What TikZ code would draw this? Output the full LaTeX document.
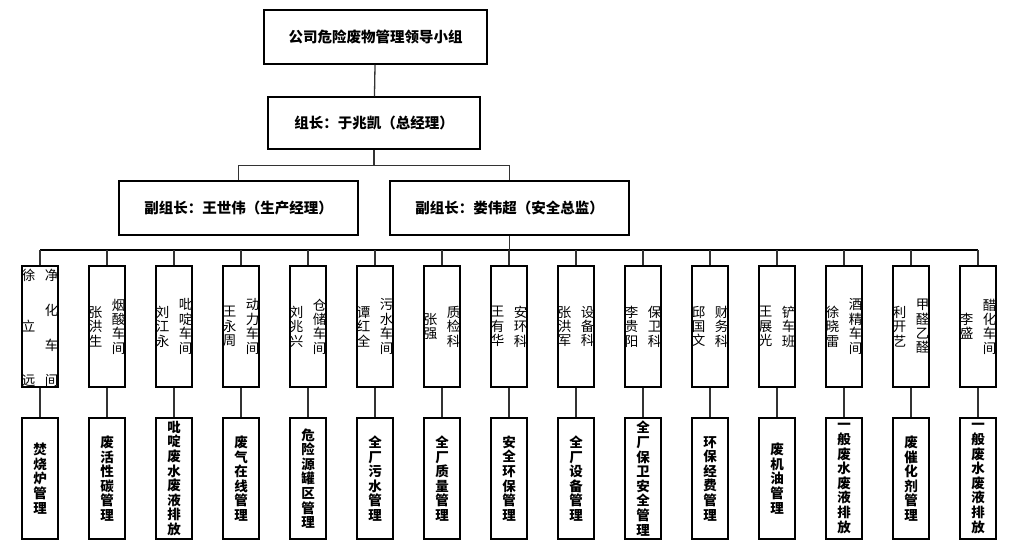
\documentclass[tikz,border=0pt]{standalone}
\usepackage{fontspec}
\setmainfont{Noto Sans CJK SC}
\XeTeXlinebreaklocale "zh"
\XeTeXlinebreakskip=0pt plus 1pt

\begin{document}
\begin{tikzpicture}[x=1pt, y=-1pt, line width=1.5pt,
    lead/.style={draw, inner sep=0pt, minimum height=54pt,
        font=\fontsize{14.5}{16}\selectfont\bfseries},
    unit/.style={draw, inner sep=0pt, minimum width=36pt, minimum height=121pt},
    vcol/.style={inner sep=0pt, text width=14pt, align=center,
        font=\fontsize{13.5}{14.4}\selectfont},
    duty/.style={unit, text width=14pt, align=center,
        font=\fontsize{13.5}{14.6}\selectfont\bfseries},
    link/.style={draw=black!80, line width=1.3pt}]
    \def\colx{67}
    \def\upy{326.5}
    \def\lowy{478.5}

    \useasboundingbox[fill=white] (0,0) rectangle (1014,552);

    \node[lead, minimum width=223pt] (group) at (375.5,37) {公司危险废物管理领导小组};
    \node[lead, minimum width=212pt, minimum height=52pt] (head) at (374,123) {组长：于兆凯（总经理）};
    \node[lead, minimum width=239pt] (depA) at (238.5,208) {副组长：王世伟（生产经理）};
    \node[lead, minimum width=239pt] (depB) at (509.5,208) {副组长：娄伟超（安全总监）};

    \draw[link] (group) -- (head);
    \path (head.south) ++(0,16) coordinate (fork);
    \draw[link] (head.south) -- (fork);
    \draw[link] (depA.north) |- (fork) -| (depB.north);
    \path (depB.south) ++(0,14.5) coordinate (bus);

    % first column, letters spread over the box
    \node[unit] (dept1) at (40,\upy) {};
    \foreach \ch/\dy in {净/-51,化/-16,车/19,间/54}
        \node[vcol] at (51.5,{\upy+\dy}) {\ch};
    \foreach \ch/\dy in {徐/-51,立/0,远/54}
        \node[vcol] at (28.5,{\upy+\dy}) {\ch};

    \foreach \i/\dept/\who in {2/烟酸车间/张洪生, 3/吡啶车间/刘江永,
        4/动力车间/王永周, 5/仓储车间/刘兆兴, 6/污水车间/谭红全,
        7/质检科/张强, 8/安环科/王有华, 9/设备科/张洪军,
        10/保卫科/李贵阳, 11/财务科/邱国文, 12/铲车班/王展光,
        13/酒精车间/徐晓雷, 14/甲醛乙醛/利开艺, 15/醋化车间/李盛}{%
        \node[unit] (dept\i) at ({\colx*\i-27},\upy) {};
        \node[vcol] at ([xshift=11.5pt]dept\i.center) {\dept};
        \node[vcol] at ([xshift=-11.5pt]dept\i.center) {\who};
    }

    \foreach \i/\task in {1/焚烧炉管理, 2/废活性碳管理, 3/吡啶废水废液排放,
        4/废气在线管理, 5/危险源罐区管理, 6/全厂污水管理, 7/全厂质量管理,
        8/安全环保管理, 9/全厂设备管理, 10/全厂保卫安全管理, 11/环保经费管理,
        12/废机油管理, 13/一般废水废液排放, 14/废催化剂管理, 15/一般废水废液排放}
        \node[duty] (duty\i) at ({\colx*\i-27},\lowy) {\task};

    \draw[line width=1.8pt] (dept1.north |- bus) -- (dept15.north |- bus);
    \draw[link] (depB.south) -- (bus);
    \foreach \i in {1,...,15}{%
        \draw[link] (dept\i.north |- bus) -- (dept\i.north);
        \draw[link] (dept\i) -- (duty\i);
    }
\end{tikzpicture}
\end{document}
